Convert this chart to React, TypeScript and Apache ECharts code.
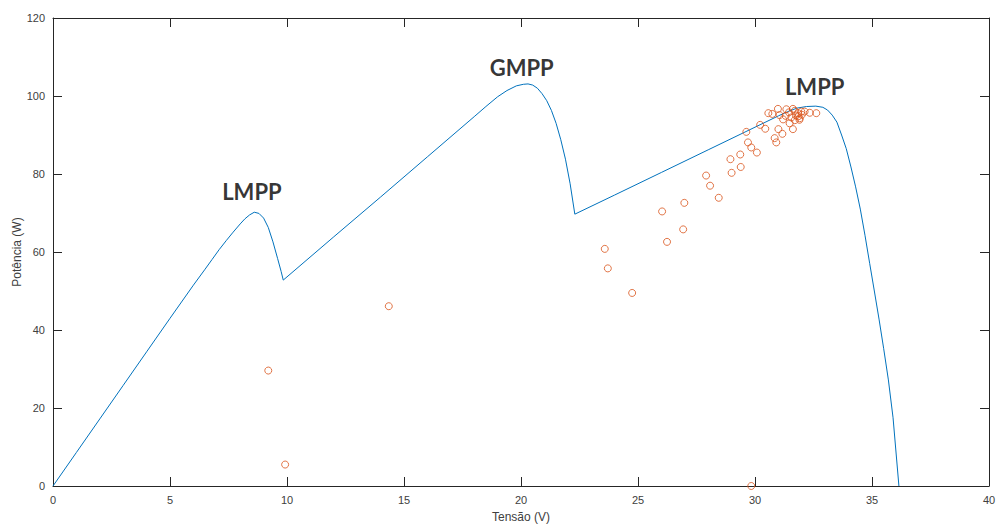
import React, { useEffect, useRef } from "react";
import * as echarts from "echarts";

// PV curve (Tensão V, Potência W)
const curveV = [0, 1, 2, 3, 4, 5, 6, 6.5, 6.8, 7.1, 7.4, 7.7, 8.0, 8.2, 8.4, 8.6, 8.8, 9.0, 9.2, 9.4, 9.6, 9.75, 9.84,
  12, 14, 16, 18, 18.5, 19.0, 19.4, 19.8, 20.1, 20.3, 20.5, 20.7, 20.9, 21.1, 21.3, 21.5, 21.7, 21.9, 22.1, 22.3,
  24, 26, 28, 30, 31.0, 31.4, 31.8, 32.2, 32.6, 32.9, 33.1, 33.3, 33.5, 33.7, 33.9, 34.1, 34.3, 34.5, 34.7, 34.9,
  35.1, 35.3, 35.5, 35.7, 35.9, 36.15];
const curveP = [0, 8.6, 17.2, 25.8, 34.4, 43, 51.5, 55.6, 58.1, 60.6, 62.9, 65.1, 67.2, 68.5, 69.5, 70.2, 69.9, 68.7, 66.3, 62.6, 58.3, 55.0, 52.8,
  63.9, 74.1, 84.4, 94.7, 97.3, 99.8, 101.4, 102.6, 103.0, 103.1, 102.8, 102.0, 100.6, 98.8, 96.3, 93.0, 88.8, 83.8, 77.5, 69.7,
  74.6, 80.4, 86.2, 92.0, 94.9, 96.0, 96.9, 97.3, 97.4, 97.1, 96.4, 95.1, 93.3, 90.0, 86.5, 81.8, 76.7, 71.0, 64.3, 57.1,
  50.0, 42.8, 35.2, 27.2, 17.5, 0];

// Measured operating points
const pointsV = [9.2, 9.92, 14.35, 29.84, 23.58, 23.71, 24.75, 26.03, 26.98, 26.24, 26.93, 27.91, 28.08, 28.45,
  29.0, 29.39, 28.95, 29.37, 29.63, 29.7, 29.84, 30.08, 30.22, 30.44, 30.57, 30.74, 30.98, 30.84, 30.91, 31.0,
  31.17, 31.34, 31.31, 31.48, 31.62, 31.62, 31.7, 31.84, 31.98, 31.91, 32.12, 32.34, 32.62, 31.05, 31.2,
  31.55, 31.75, 31.45, 31.85, 32.0, 31.9, 31.7];
const pointsP = [29.6, 5.5, 46.1, 0, 60.8, 55.8, 49.5, 70.4, 72.6, 62.6, 65.8, 79.6, 77.0, 73.9,
  80.3, 81.8, 83.8, 85.0, 90.8, 88.1, 86.8, 85.5, 92.6, 91.6, 95.6, 95.4, 96.7, 89.2, 88.1, 91.5,
  90.3, 96.6, 94.9, 93.0, 96.7, 91.5, 93.8, 95.6, 96.0, 94.3, 96.0, 95.7, 95.6, 95.1, 94.0,
  94.5, 95.0, 95.8, 94.8, 95.2, 93.9, 96.2];

// Annotations
const annotNames = ["LMPP", "GMPP", "LMPP"];
const annotV = [8.5, 20.03, 32.55];
const annotP = [75.4, 107.4, 102.4];

const xTicks = { min: 0, max: 40, interval: 5 };
const yTicks = { min: 0, max: 120, interval: 20 };

export default function App() {
  const ref = useRef<HTMLDivElement>(null);
  useEffect(() => {
    if (!ref.current) return;
    const chart = echarts.init(ref.current, null, { renderer: "svg" });
    const axisColor = "#262626";
    const labelStyle = { color: "#404040", fontSize: 11, fontFamily: "Liberation Sans" };
    const baseX = {
      type: "value" as const,
      ...xTicks,
      splitLine: { show: false },
      axisLine: { show: true, onZero: false, lineStyle: { color: axisColor, width: 1 } },
      axisTick: { show: true, inside: true, length: 9, lineStyle: { color: axisColor } },
    };
    const baseY = {
      type: "value" as const,
      ...yTicks,
      splitLine: { show: false },
      axisLine: { show: true, onZero: false, lineStyle: { color: axisColor, width: 1 } },
      axisTick: { show: true, inside: true, length: 9, lineStyle: { color: axisColor } },
    };
    chart.setOption({
      animation: false,
      backgroundColor: "#ffffff",
      grid: { left: 53, right: 8, top: 18, bottom: 39, containLabel: false, outerBoundsMode: "none" },
      xAxis: [
        {
          ...baseX,
          position: "bottom",
          axisLabel: { ...labelStyle, margin: 8 },
          name: "Tensão (V)",
          nameLocation: "middle",
          nameGap: 25,
          nameMoveOverlap: false,
          nameTextStyle: { color: "#404040", fontSize: 12, fontFamily: "Liberation Sans" },
        },
        { ...baseX, position: "top", axisLabel: { show: false } },
      ],
      yAxis: [
        {
          ...baseY,
          position: "left",
          axisLabel: { ...labelStyle, margin: 8 },
          name: "Potência (W)",
          nameLocation: "middle",
          nameGap: 30,
          nameMoveOverlap: false,
          nameTextStyle: { color: "#404040", fontSize: 12, fontFamily: "Liberation Sans" },
        },
        { ...baseY, position: "right", axisLabel: { show: false } },
      ],
      series: [
        {
          type: "line",
          data: curveV.map((v, i) => [v, curveP[i]]),
          showSymbol: false,
          symbol: "none",
          lineStyle: { color: "#0072BD", width: 1 },
          xAxisIndex: 0,
          yAxisIndex: 0,
          z: 2,
        },
        {
          type: "scatter",
          data: pointsV.map((v, i) => [v, pointsP[i]]),
          symbol: "circle",
          symbolSize: 7,
          itemStyle: { color: "rgba(0,0,0,0)", borderColor: "#D95319", borderWidth: 1 },
          xAxisIndex: 0,
          yAxisIndex: 0,
          z: 3,
        },
        {
          type: "scatter",
          data: annotV.map((v, i) => ({ value: [v, annotP[i]], name: annotNames[i] })),
          symbolSize: 1,
          itemStyle: { color: "rgba(0,0,0,0)" },
          label: {
            show: true,
            position: "inside",
            formatter: (p: any) => p.name,
            color: "#000000",
            fontSize: 22,
            fontWeight: "bold",
            fontFamily: "Lato",
          },
          xAxisIndex: 0,
          yAxisIndex: 0,
          z: 4,
        },
      ],
    });
    return () => chart.dispose();
  }, []);
  return (
    <div
      ref={ref}
      style={{ position: "absolute", left: 0, top: 0, width: 997, height: 525, background: "#fff" }}
    />
  );
}
